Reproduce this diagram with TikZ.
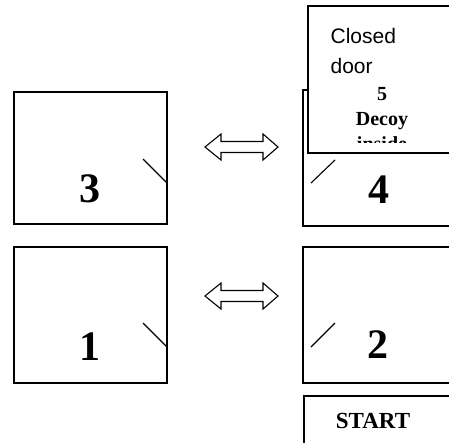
\documentclass[tikz,border=0pt]{standalone}
\usepackage{fontspec}
\setmainfont{Liberation Serif}
\newfontfamily\arialfont{Liberation Sans}
\begin{document}
\begin{tikzpicture}[x=1pt,y=-1pt,line width=1.2pt,
    roomnum/.style={font=\fontsize{42}{42}\selectfont\bfseries,anchor=base,inner sep=0pt},
    doorline/.style={line width=1.1pt}]
      \clip (0,0) rectangle (449,442);
      \fill[white] (0,0) rectangle (449,442);
      % rooms
      \draw (14,92) rectangle (167,224);
      \draw (303,90) rectangle (470,226);
      \draw (14,247) rectangle (167,383);
      \draw (303,247) rectangle (470,383);
      \draw (304,396) rectangle (470,460);
      % doors
      \draw[doorline] (143,159)--(167,183);
      \draw[doorline] (143,323)--(167,347);
      \draw[doorline] (311,183)--(335,160);
      \draw[doorline] (311,347)--(335,323);
      \node[roomnum] (num3) at (90,202) {3};
      \node[roomnum] (num4) at (379,203) {4};
      \node[roomnum] (num1) at (90,360) {1};
      \node[roomnum] (num2) at (378,358) {2};
      \node[font=\fontsize{23}{23}\selectfont\bfseries,anchor=base,inner sep=0pt] (start) at (373,428) {START};
      % swaps
      \foreach \y in {147,296}
        \draw[line width=1.1pt] (205,\y)--(221,\y-13)--(221,\y-5.5)--(263,\y-5.5)--(263,\y-13)--(278,\y)
          --(263,\y+13)--(263,\y+5.5)--(221,\y+5.5)--(221,\y+13)--cycle;
      % room 5 with its closed door
      \filldraw[fill=white] (308,6) rectangle (470,153);
      \begin{scope}
        \clip (308,6) rectangle (470,142);
        \node[font=\arialfont\fontsize{21}{30}\selectfont,align=left,anchor=base west,inner sep=0pt] (closed) at (330,73) {Closed\\door};
        \node[font=\fontsize{20}{25}\selectfont\bfseries,align=center,anchor=base,inner sep=0pt] (decoy) at (382,150) {5\\Decoy\\inside};
      \end{scope}
\end{tikzpicture}
\end{document}
